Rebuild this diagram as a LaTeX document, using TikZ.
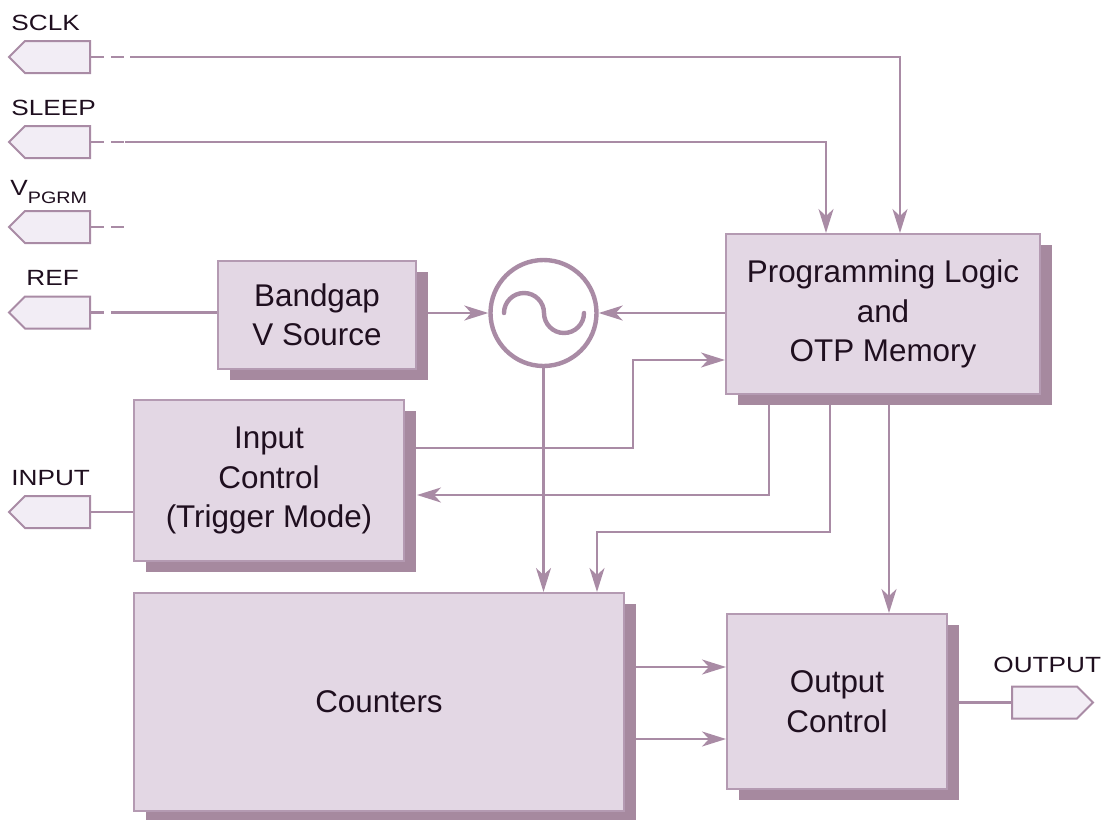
\documentclass[tikz,border=0pt]{standalone}
\usepackage{fontspec}
\setmainfont{Liberation Sans}
\newfontfamily\labfam[FakeStretch=1.19]{Liberation Sans}
\usetikzlibrary{shapes.symbols,shadows,arrows.meta,backgrounds}
\definecolor{linec}{HTML}{A98BA5}
\definecolor{shadowc}{HTML}{A6899F}
\definecolor{boxfill}{HTML}{E3D7E4}
\definecolor{boxborder}{HTML}{B49AB2}
\definecolor{pinfill}{HTML}{F2EDF5}
\definecolor{textc}{HTML}{1F0F1F}
\newcommand{\boxfont}{\fontsize{15.7}{19.7}\selectfont}
\newcommand{\labfont}{\labfam\fontsize{11}{13}\selectfont}
\begin{document}
\begin{tikzpicture}[x=0.5pt,y=-0.5pt,
  blk/.style={draw=boxborder, line width=1pt, fill=boxfill, text=textc,
    align=center, font=\boxfont, inner sep=0pt,
    drop shadow={shadow xshift=6pt, shadow yshift=-5.5pt, fill=shadowc, opacity=1}},
  pinin/.style={signal, signal to=west, signal pointer angle=90, draw=linec,
    line width=1pt, fill=pinfill, minimum width=40.5pt, minimum height=16pt, inner sep=0pt},
  pinout/.style={pinin, signal to=east},
  lab/.style={font=\labfont, text=textc, inner sep=0pt, anchor=base west},
  conn/.style={draw=linec, line width=1.1pt},
  dashconn/.style={conn, dash pattern=on 6.5pt off 3.5pt},
  arr/.style={conn, -{Stealth[length=12pt,width=7.5pt,inset=3.5pt]}}]
\useasboundingbox (0,0) rectangle (1107,819);

% blocks
\node[blk, minimum width=99pt, minimum height=54pt] (bandgap) at (317,315) {Bandgap\\V Source};
\node[blk, minimum width=157pt, minimum height=80pt] (prog) at (883,314) {Programming Logic\\and\\OTP Memory};
\node[blk, minimum width=135pt, minimum height=80.5pt] (input) at (269,480.5) {Input\\Control\\(Trigger Mode)};
\node[blk, minimum width=245pt, minimum height=109pt] (counters) at (379,702) {Counters};
\node[blk, minimum width=110pt, minimum height=87.5pt] (output) at (837,701.5) {Output\\Control};
\node[circle, draw=linec, line width=2.2pt, fill=white, minimum size=53pt, inner sep=0pt] (osc) at (543.5,313) {};
\draw[linec, line width=2.2pt, line cap=round] (504,313) arc[start angle=180, end angle=0, radius=10pt] arc[start angle=180, end angle=360, radius=10pt];

% pins
\node[pinin] (sclk) at (57.5,57) {};
\node[pinin] (sleep) at (57.5,142) {};
\node[pinin] (vpgrm) at (57.5,227) {};
\node[pinin] (ref) at (57.5,312.5) {};
\node[pinin] (inpin) at (57.5,512) {};
\node[pinout] (outpin) at (1044.5,702.5) {};

% labels
\node[lab] (lsclk) at (11,31) {SCLK};
\node[lab] (lsleep) at (11,115) {SLEEP};
\node[lab] (lvpgrm) at (10,195) {V\raisebox{-4pt}{\fontsize{8.3}{9}\selectfont PGRM}};
\node[lab] (lref) at (26,285) {REF};
\node[lab] (linput) at (11,485) {INPUT};
\node[lab] (loutput) at (993,672) {OUTPUT};

% helper coordinates
\coordinate (dsclk) at (130,57);
\coordinate (dsleep) at (125,142);
\coordinate (dvpgrm) at (130,227);
\coordinate (dref) at (118,312.5);
\coordinate (xsclk) at (900,0);
\coordinate (xsleep) at (826,0);
\coordinate (b1) at (633,448);
\coordinate (b2) at (633,360);
\coordinate (b3) at (769,495);
\coordinate (b4) at (830,532);
\coordinate (b5) at (597,532);
\coordinate (b6) at (889,0);
\coordinate (y1) at (0,667);
\coordinate (y2) at (0,739);

\begin{scope}[on background layer]
\draw[dashconn] (sclk.east) -- (dsclk);
\draw[arr] (dsclk) -| (xsclk |- prog.north);
\draw[dashconn] (sleep.east) -- (dsleep);
\draw[arr] (dsleep) -| (xsleep |- prog.north);
\draw[dashconn] (vpgrm.east) -- (dvpgrm);
\draw[dashconn] (ref.east) -- (dref);
\draw[conn] (dref) -- (dref -| bandgap.west);
\draw[arr] (osc.west -| bandgap.east) -- (osc.west);
\draw[arr] (osc.east -| prog.west) -- (osc.east);
\draw[arr] (b1 -| input.east) -- (b1) -- (b2) -- (b2 -| prog.west);
\draw[arr] (b3 |- prog.south) -- (b3) -- ([xshift=6pt]b3 -| input.east);
\draw[arr] (b4 |- prog.south) -- (b4) -- (b5) -- (b5 |- counters.north);
\draw[arr] (osc.south) -- (osc.south |- counters.north);
\draw[arr] (b6 |- prog.south) -- (b6 |- output.north);
\draw[arr] (y1 -| counters.east) -- (y1 -| output.west);
\draw[arr] (y2 -| counters.east) -- (y2 -| output.west);
\draw[conn] (outpin.west -| output.east) -- (outpin.west);
\draw[conn] (inpin.east) -- (inpin.east -| input.west);
\end{scope}
\end{tikzpicture}
\end{document}
